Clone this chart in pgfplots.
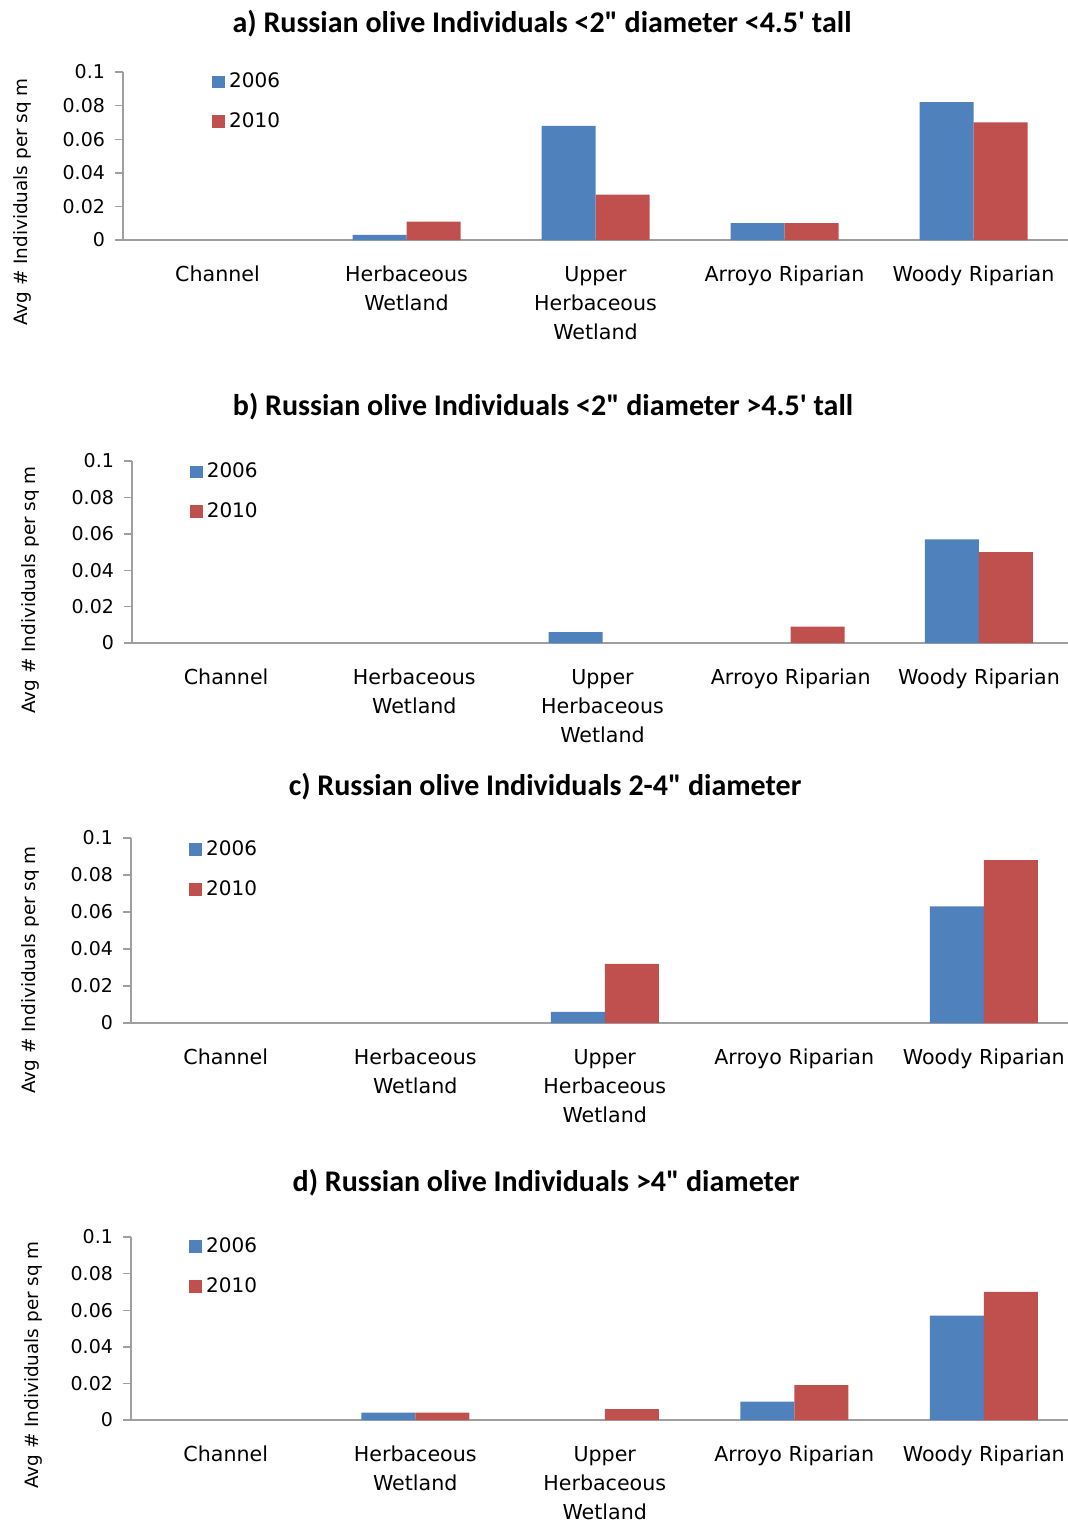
\documentclass[border=0pt]{standalone}
\usepackage{fontspec}
\setmainfont{DejaVu Sans}
\newfontfamily\titlefont{Carlito}
\usepackage{pgfplots}
\pgfplotsset{compat=1.18}
\definecolor{cb}{HTML}{4F81BD}
\definecolor{cr}{HTML}{C0504D}
\pgfplotsset{
  panel/.style={
    scale only axis,
    ybar=0pt, bar width=27pt,
    ymin=0, ymax=0.1,
    xmin=-0.5, xmax=4.5,
    ytick={0,0.02,0.04,0.06,0.08,0.1},
    xtick={0,1,2,3,4},
    xticklabels={Channel,{Herbaceous\\Wetland},{Upper\\Herbaceous\\Wetland},Arroyo Riparian,Woody Riparian},
    axis x line*=bottom, axis y line*=left,
    axis line style={draw=gray!75, line width=0.8pt},
    xtick style={draw=none},
    ytick style={draw=gray!75, line width=0.7pt},
    tick align=outside, major tick length=4pt,
    x tick label style={align=center, font=\fontsize{10.3}{14.5}\selectfont, anchor=north, yshift=-5.5pt},
    y tick label style={font=\fontsize{9.5}{11}\selectfont, xshift=-1.5pt,
      /pgf/number format/fixed, /pgf/number format/precision=2,
      /pgf/number format/assume math mode=true},
    scaled y ticks=false,
    legend style={draw=none, fill=none, font=\fontsize{10}{12}\selectfont,
      row sep=7pt, inner sep=0pt, legend cell align=left,
      /tikz/every even column/.append style={column sep=2pt}},
    clip=false,
  },
  sq/.style={legend image code/.code={\fill[##1] (0pt,-3.2pt) rectangle (6.5pt,3.2pt);}},
}
\begin{document}
\begin{tikzpicture}
\useasboundingbox (0,0) rectangle (534pt,-761pt);
% ---------- a ----------
\node[font=\titlefont\bfseries\fontsize{15}{17}\selectfont] at (271pt,-12pt) {a) Russian olive Individuals <2" diameter <4.5' tall};
\node[rotate=90, font=\fontsize{9.2}{11}\selectfont] at (11pt,-101pt) {Avg \# Individuals per sq m};
\begin{axis}[panel, at={(61.5pt,-120pt)}, anchor=south west, width=472.5pt, height=84pt,
  legend style={at={(axis cs:-0.03,0.102)}, anchor=north west}]
\addplot[fill=cb, draw=none, sq] coordinates {(1,0.003) (2,0.068) (3,0.010) (4,0.082)};
\addplot[fill=cr, draw=none, sq] coordinates {(1,0.011) (2,0.027) (3,0.010) (4,0.070)};
\legend{2006,2010}
\end{axis}
% ---------- b ----------
\node[font=\titlefont\bfseries\fontsize{15}{17}\selectfont] at (271.5pt,-203.5pt) {b) Russian olive Individuals <2" diameter >4.5' tall};
\node[rotate=90, font=\fontsize{9.2}{11}\selectfont] at (15pt,-295pt) {Avg \# Individuals per sq m};
\begin{axis}[panel, at={(66pt,-321.5pt)}, anchor=south west, width=470.5pt, height=91pt,
  legend style={at={(axis cs:-0.195,0.1013)}, anchor=north west}]
\addplot[fill=cb, draw=none, sq] coordinates {(2,0.006) (4,0.057)};
\addplot[fill=cr, draw=none, sq] coordinates {(3,0.009) (4,0.050)};
\legend{2006,2010}
\end{axis}
% ---------- c ----------
\node[font=\titlefont\bfseries\fontsize{15}{17}\selectfont] at (272.5pt,-393.5pt) {c) Russian olive Individuals 2-4" diameter};
\node[rotate=90, font=\fontsize{9.2}{11}\selectfont] at (15pt,-485pt) {Avg \# Individuals per sq m};
\begin{axis}[panel, at={(65.5pt,-511.5pt)}, anchor=south west, width=473.75pt, height=92.5pt,
  legend style={at={(axis cs:-0.195,0.1008)}, anchor=north west}]
\addplot[fill=cb, draw=none, sq] coordinates {(2,0.006) (4,0.063)};
\addplot[fill=cr, draw=none, sq] coordinates {(2,0.032) (4,0.088)};
\legend{2006,2010}
\end{axis}
% ---------- d ----------
\node[font=\titlefont\bfseries\fontsize{15}{17}\selectfont] at (273pt,-591.5pt) {d) Russian olive Individuals >4" diameter};
\node[rotate=90, font=\fontsize{9.2}{11}\selectfont] at (16.5pt,-682.5pt) {Avg \# Individuals per sq m};
\begin{axis}[panel, at={(65.5pt,-710pt)}, anchor=south west, width=473.75pt, height=91.5pt,
  legend style={at={(axis cs:-0.195,0.102)}, anchor=north west}]
\addplot[fill=cb, draw=none, sq] coordinates {(1,0.004) (3,0.010) (4,0.057)};
\addplot[fill=cr, draw=none, sq] coordinates {(1,0.004) (2,0.006) (3,0.019) (4,0.070)};
\legend{2006,2010}
\end{axis}
\end{tikzpicture}
\end{document}
